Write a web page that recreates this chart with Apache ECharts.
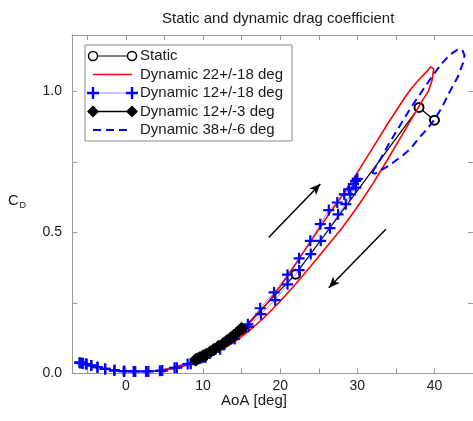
<!DOCTYPE html>
<html><head><meta charset="utf-8">
<script src="https://cdn.jsdelivr.net/npm/echarts@6/dist/echarts.min.js"></script>
<style>html,body{margin:0;padding:0;background:#fff}#c{width:473px;height:421px}</style>
</head><body><div id="c"></div>
<script>
// ---- data (AoA [deg], C_D) ----
const titleText = 'Static and dynamic drag coefficient';
const seriesNames = ['Static', 'Dynamic 22+/-18 deg', 'Dynamic 12+/-18 deg', 'Dynamic 12+/-3 deg', 'Dynamic 38+/-6 deg'];
const xTicks = [-5, 0, 5, 10, 15, 20, 25, 30, 35, 40, 45];
const xLabels = [0, 10, 20, 30, 40];
const yTicks = [0, 0.25, 0.5, 0.75, 1.0];
const yLabels = [0, 0.5, 1.0];

const staticData = [[10, 0.058], [15, 0.155], [22, 0.352], [38, 0.943], [40, 0.898]];

const dyn22 = [
  [4, 0.008], [6, 0.02], [8, 0.036], [10, 0.06], [12, 0.09], [14, 0.13], [16, 0.178], [18, 0.238],
  [20, 0.308], [22, 0.388], [24, 0.47], [26, 0.552], [28, 0.63], [30, 0.712], [32, 0.8], [34, 0.888],
  [36, 0.972], [37, 1.01], [38, 1.042], [39, 1.07], [39.5, 1.087], [39.7, 1.094],
  [39.9, 1.08], [39.7, 1.04], [39.2, 1.0], [38.5, 0.97], [38, 0.948], [36, 0.855], [34, 0.762],
  [32, 0.672], [30, 0.59], [28, 0.515], [26, 0.448], [24, 0.382], [22, 0.317], [20, 0.256],
  [18, 0.2], [16, 0.152], [14, 0.11], [12, 0.078], [10, 0.05], [8, 0.03], [6, 0.016], [4, 0.008]
];

const dyn12a18 = [
  [-6.0, 0.038], [-5.6, 0.036], [-5.1, 0.033], [-4.5, 0.028], [-3.7, 0.022], [-2.7, 0.016], [-1.5, 0.011],
  [-0.3, 0.008], [1.0, 0.007], [2.6, 0.007], [4.4, 0.009], [6.3, 0.02], [8.0, 0.033], [9.8, 0.055],
  [11.6, 0.085], [13.5, 0.125], [15.8, 0.174], [17.4, 0.231], [19.2, 0.287], [20.95, 0.35], [22.45, 0.408],
  [23.9, 0.47], [25.2, 0.529], [26.3, 0.579], [27.4, 0.606], [28.3, 0.635], [28.9, 0.653], [29.5, 0.671],
  [29.8, 0.683], [30.0, 0.69],
  [29.8, 0.659], [29.1, 0.635], [28.5, 0.6], [27.5, 0.564], [26.45, 0.515], [25.25, 0.47], [23.96, 0.423],
  [22.45, 0.366], [20.95, 0.316], [19.35, 0.26], [17.5, 0.21], [15.9, 0.165], [14.1, 0.122], [12.2, 0.086],
  [10.3, 0.056], [8.4, 0.034], [6.6, 0.02], [4.7, 0.01], [2.9, 0.007], [1.2, 0.007], [-0.2, 0.008],
  [-1.5, 0.011], [-2.7, 0.016], [-3.7, 0.022], [-4.5, 0.028], [-5.2, 0.033], [-5.7, 0.036], [-6.0, 0.038]
];

const dyn12a3 = [
  [9.0, 0.05], [9.1, 0.051], [9.3, 0.054], [9.6, 0.058], [10.0, 0.064], [10.4, 0.07], [10.9, 0.078],
  [11.4, 0.087], [12.0, 0.098], [12.6, 0.108], [13.1, 0.118], [13.6, 0.128], [14.0, 0.137], [14.4, 0.146],
  [14.7, 0.153], [14.9, 0.158], [15.0, 0.162],
  [14.9, 0.155], [14.7, 0.15], [14.4, 0.142], [14.0, 0.132], [13.6, 0.123], [13.1, 0.113], [12.6, 0.103],
  [12.0, 0.093], [11.4, 0.082], [10.9, 0.073], [10.4, 0.066], [10.0, 0.06], [9.6, 0.054], [9.3, 0.05],
  [9.1, 0.047], [9.0, 0.046]
];

const dyn38 = [
  [31.9, 0.712], [33, 0.76], [34, 0.81], [35, 0.855], [36, 0.9], [37, 0.945], [38, 0.985], [39, 1.025],
  [40, 1.065], [41, 1.1], [42, 1.13], [43, 1.148], [43.6, 1.148], [43.9, 1.128],
  [43.7, 1.1], [43, 1.05], [42, 1.0], [41, 0.945], [40, 0.9], [39, 0.865], [38, 0.835], [37, 0.8],
  [36, 0.775], [35, 0.755], [34, 0.735], [33, 0.72], [32.3, 0.708], [31.9, 0.712]
];

// direction arrows: [from, to]
const arrows = [
  [[18.5, 0.482], [25.2, 0.672]],
  [[33.7, 0.511], [26.3, 0.304]]
];

// ---- chart ----
const PLUS = 'path://M4,0H6V4H10V6H6V10H4V6H0V4H4Z';
const axisGrey = '#9a9a9a';
const txt = '#1a1a1a';
const FONT = 'Liberation Sans, Arial, Helvetica, sans-serif';

function plusPoly(cx, cy, s, t) {
  const h = s / 2;
  return { type: 'polygon', shape: { points: [
    [cx - t, cy - h], [cx + t, cy - h], [cx + t, cy - t], [cx + h, cy - t], [cx + h, cy + t], [cx + t, cy + t],
    [cx + t, cy + h], [cx - t, cy + h], [cx - t, cy + t], [cx - h, cy + t], [cx - h, cy - t], [cx - t, cy - t]
  ] }, style: { fill: '#0000ff' }, z: 102 };
}
function diamondPoly(cx, cy, r) {
  return { type: 'polygon', shape: { points: [[cx, cy - r], [cx + r, cy], [cx, cy + r], [cx - r, cy]] }, style: { fill: '#000' }, z: 102 };
}

const lx0 = 93, lx1 = 132, ltx = 140;
const rowY = [56, 74.5, 93, 111.5, 130];
const legendEls = [
  { type: 'rect', shape: { x: 85, y: 45, width: 207, height: 96 }, style: { fill: '#fff', stroke: '#8a8a8a', lineWidth: 1 }, z: 100 },
  // Static
  { type: 'line', shape: { x1: lx0, y1: rowY[0], x2: lx1, y2: rowY[0] }, style: { stroke: '#000', lineWidth: 1.2 }, z: 101 },
  { type: 'circle', shape: { cx: lx0, cy: rowY[0], r: 4.5 }, style: { fill: '#fff', stroke: '#000', lineWidth: 1.5 }, z: 102 },
  { type: 'circle', shape: { cx: lx1, cy: rowY[0], r: 4.5 }, style: { fill: '#fff', stroke: '#000', lineWidth: 1.5 }, z: 102 },
  // red
  { type: 'line', shape: { x1: lx0, y1: rowY[1], x2: lx1, y2: rowY[1] }, style: { stroke: '#ff0000', lineWidth: 1.5 }, z: 101 },
  // blue plus
  { type: 'line', shape: { x1: lx0, y1: rowY[2], x2: lx1, y2: rowY[2] }, style: { stroke: 'rgba(60,60,255,0.55)', lineWidth: 1 }, z: 101 },
  plusPoly(lx0, rowY[2], 12, 1.2), plusPoly(lx1, rowY[2], 12, 1.2),
  // diamonds
  { type: 'line', shape: { x1: lx0, y1: rowY[3], x2: lx1, y2: rowY[3] }, style: { stroke: '#000', lineWidth: 1.4 }, z: 101 },
  diamondPoly(lx0, rowY[3], 6), diamondPoly(lx1, rowY[3], 6),
  // dashed
  { type: 'line', shape: { x1: lx0, y1: rowY[4], x2: lx1, y2: rowY[4] }, style: { stroke: '#0000ff', lineWidth: 2, lineDash: [8, 5] }, z: 101 }
];
seriesNames.forEach((n, i) => {
  legendEls.push({ type: 'text', x: ltx, y: rowY[i], style: { text: n, fill: txt, font: '15px ' + FONT, textVerticalAlign: 'middle' }, z: 102 });
});

const chart = echarts.init(document.getElementById('c'), null, { renderer: 'canvas' });

const xCommon = {
  type: 'value', min: -7, max: 45,
  axisLine: { show: true, onZero: false, lineStyle: { color: axisGrey, width: 1 } },
  axisTick: { show: true, inside: true, length: 5, customValues: xTicks, lineStyle: { color: axisGrey } },
  splitLine: { show: false }
};
const yCommon = {
  type: 'value', min: 0, max: 1.2,
  axisLine: { show: true, onZero: false, lineStyle: { color: axisGrey, width: 1 } },
  axisTick: { show: true, inside: true, length: 5, customValues: yTicks, lineStyle: { color: axisGrey } },
  splitLine: { show: false }
};

chart.setOption({
  animation: false,
  backgroundColor: '#fff',
  title: {
    text: titleText, left: 157, top: 6,
    textStyle: { fontSize: 15, fontWeight: 'normal', color: txt, fontFamily: FONT }
  },
  grid: { left: 72, top: 35, width: 403, height: 338.4, containLabel: false },
  xAxis: [
    Object.assign({}, xCommon, { position: 'bottom',
      axisLabel: { show: true, customValues: xLabels, fontSize: 14, color: txt, fontFamily: FONT, margin: 6 } }),
    Object.assign({}, xCommon, { position: 'top', axisLabel: { show: false } })
  ],
  yAxis: [
    Object.assign({}, yCommon, { position: 'left',
      axisLabel: { show: true, customValues: yLabels, fontSize: 14, color: txt, fontFamily: FONT, margin: 10,
        formatter: v => Number(v).toFixed(1) } }),
    Object.assign({}, yCommon, { position: 'right', axisLabel: { show: false } })
  ],
  graphic: [
    { type: 'text', x: 254, y: 401, style: { text: 'AoA [deg]', fill: txt, font: '15px ' + FONT, textAlign: 'center', textVerticalAlign: 'middle' } },
    { type: 'text', x: 8, y: 201, style: { text: 'C', fill: txt, font: '15px ' + FONT, textVerticalAlign: 'middle' } },
    { type: 'text', x: 19.5, y: 206, style: { text: 'D', fill: txt, font: '9px ' + FONT, textVerticalAlign: 'middle' } }
  ].concat(legendEls),
  series: [
    { name: seriesNames[0], type: 'line', data: staticData, xAxisIndex: 0, yAxisIndex: 0,
      symbol: 'emptyCircle', symbolSize: 9, showAllSymbol: true,
      itemStyle: { color: '#000', borderColor: '#000', borderWidth: 1.5 },
      lineStyle: { color: '#000', width: 1.2 }, z: 2 },
    { name: seriesNames[1], type: 'line', data: dyn22, symbol: 'none',
      lineStyle: { color: '#ff0000', width: 1.6 }, z: 3 },
    { name: seriesNames[2], type: 'line', data: dyn12a18, symbol: PLUS, symbolSize: 11, showAllSymbol: true,
      itemStyle: { color: '#0000ff' }, lineStyle: { color: 'rgba(60,60,255,0.55)', width: 1 }, z: 4 },
    { name: seriesNames[3], type: 'line', data: dyn12a3, symbol: 'diamond', symbolSize: 12, showAllSymbol: true,
      itemStyle: { color: '#000' }, lineStyle: { color: '#000', width: 1.4 }, z: 5 },
    { name: seriesNames[4], type: 'line', data: dyn38, symbol: 'none',
      lineStyle: { color: '#0000ff', width: 2, type: [8, 5] }, z: 6,
      markLine: {
        silent: true, symbol: ['none', 'arrow'], symbolSize: [7, 11], animation: false,
        label: { show: false },
        lineStyle: { color: '#000', width: 1.5, type: 'solid' },
        emphasis: { disabled: true },
        data: arrows.map(a => [{ coord: a[0] }, { coord: a[1] }])
      } }
  ]
});
</script>
</body></html>
